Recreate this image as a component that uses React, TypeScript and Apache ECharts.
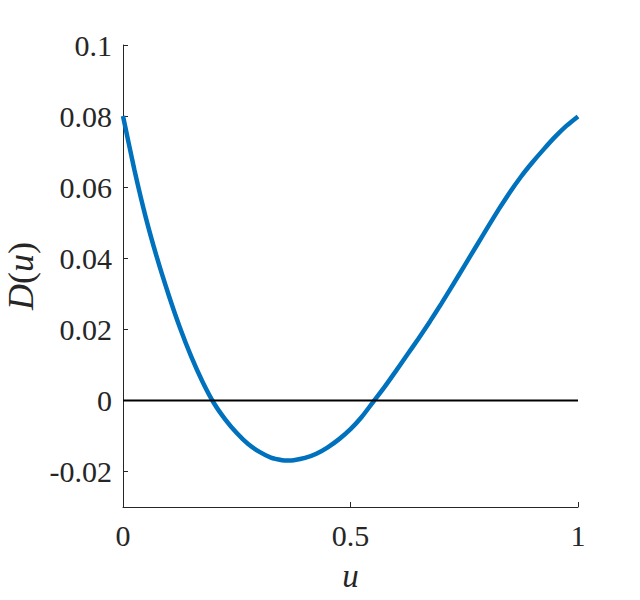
import React, { useEffect, useRef } from "react";
import * as echarts from "echarts";

const uValues = [
  0, 0.025, 0.05, 0.075, 0.1, 0.125, 0.15, 0.175, 0.2, 0.225, 0.25, 0.275, 0.3,
  0.325, 0.35, 0.3625, 0.375, 0.4, 0.425, 0.45, 0.475, 0.5, 0.525, 0.55, 0.575,
  0.6, 0.625, 0.65, 0.675, 0.7, 0.725, 0.75, 0.775, 0.8, 0.825, 0.85, 0.875,
  0.9, 0.925, 0.95, 0.975, 1,
];
const dValues = [
  0.08, 0.0649, 0.0515, 0.04, 0.0298, 0.0205, 0.0123, 0.0052, -0.0008, -0.0054,
  -0.0092, -0.0123, -0.0145, -0.0161, -0.01682, -0.0169, -0.01683, -0.0162,
  -0.015, -0.0132, -0.0109, -0.0081, -0.0046, -0.0004, 0.0038, 0.0083, 0.0129,
  0.0175, 0.0223, 0.0273, 0.0325, 0.0378, 0.0431, 0.0484, 0.0536, 0.0585,
  0.063, 0.067, 0.0707, 0.0742, 0.0773, 0.0799,
];
const zeroLineU = [0, 1];
const zeroLineD = [0, 0];
const yTickValues = [-0.02, 0, 0.02, 0.04, 0.06, 0.08, 0.1];
const xTickValues = [0, 0.5, 1];

const TEXT = "#262626";
const FONT = "Liberation Serif";

export default function App() {
  const ref = useRef<HTMLDivElement>(null);
  useEffect(() => {
    if (!ref.current) return;
    const chart = echarts.init(ref.current, undefined, { renderer: "svg" });
    chart.setOption({
      animation: false,
      backgroundColor: "#ffffff",
      grid: {
        left: 123,
        right: 62,
        top: 45,
        bottom: 93,
        containLabel: false,
        outerBoundsMode: "none",
      },
      xAxis: {
        type: "value",
        min: 0,
        max: 1,
        interval: 0.5,
        name: "{i|u}",
        nameLocation: "middle",
        nameGap: 52,
        nameTextStyle: {
          color: TEXT,
          fontFamily: FONT,
          fontSize: 33,
          rich: { i: { fontStyle: "italic", fontFamily: FONT, fontSize: 33, color: TEXT } },
        },
        axisLine: { show: true, onZero: false, lineStyle: { color: TEXT, width: 1 } },
        axisTick: { show: true, inside: true, length: 5, lineStyle: { color: TEXT }, customValues: xTickValues },
        axisLabel: {
          color: TEXT,
          fontFamily: FONT,
          fontSize: 30,
          margin: 13,
          customValues: xTickValues,
          formatter: (v: number) => String(v),
        },
        splitLine: { show: false },
      },
      yAxis: {
        type: "value",
        min: -0.03,
        max: 0.1,
        name: "{i|D}({i|u})",
        nameLocation: "middle",
        nameGap: 84,
        nameRotate: 90,
        nameTextStyle: {
          color: TEXT,
          fontFamily: FONT,
          fontSize: 36,
          rich: {
            i: { fontStyle: "italic", fontFamily: FONT, fontSize: 36, color: TEXT },
          },
        },
        axisLine: { show: true, onZero: false, lineStyle: { color: TEXT, width: 1 } },
        axisTick: {
          show: true,
          inside: true,
          length: 5,
          lineStyle: { color: TEXT },
          customValues: yTickValues,
        },
        axisLabel: {
          color: TEXT,
          fontFamily: FONT,
          fontSize: 30,
          margin: 11,
          customValues: yTickValues,
          formatter: (v: number) => String(parseFloat(v.toFixed(4))),
        },
        splitLine: { show: false },
      },
      series: [
        {
          type: "line",
          data: uValues.map((u, i) => [u, dValues[i]]),
          showSymbol: false,
          smooth: 0.2,
          lineStyle: { color: "#0072BD", width: 4.5 },
          z: 2,
        },
        {
          type: "line",
          data: zeroLineU.map((u, i) => [u, zeroLineD[i]]),
          showSymbol: false,
          lineStyle: { color: "#000000", width: 2 },
          z: 3,
        },
      ],
    });
    return () => chart.dispose();
  }, []);
  return (
    <div
      ref={ref}
      style={{ position: "absolute", left: 0, top: 0, width: 640, height: 600 }}
    />
  );
}
